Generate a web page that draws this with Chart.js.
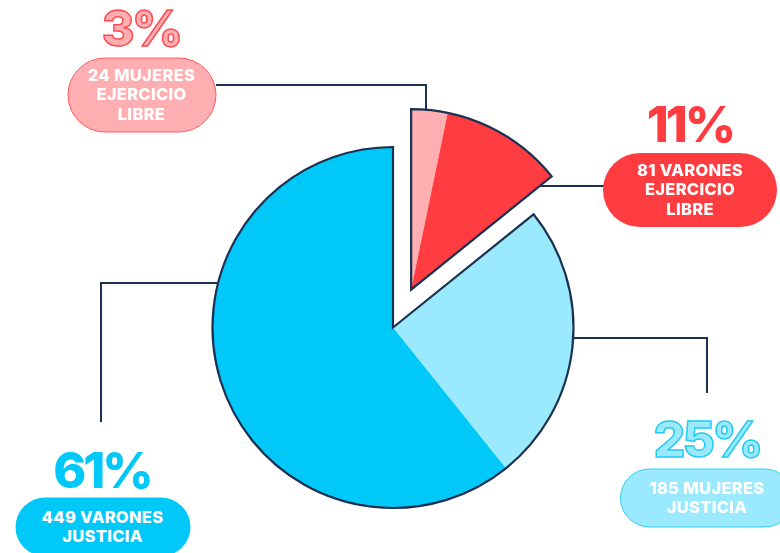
<!DOCTYPE html>
<html>
<head>
<meta charset="utf-8">
<script src="https://cdn.jsdelivr.net/npm/chart.js@4/dist/chart.umd.min.js"></script>
<style>
  html, body { margin: 0; padding: 0; background: #fff; overflow: hidden; }
  #wrap { position: relative; width: 780px; height: 553px; overflow: hidden; }
  #wrap canvas { position: absolute; left: 0; top: 0; }
  .pct, .pill { position: absolute; transform: translate(-50%, -50%); font-family: Inter, "Open Sans", sans-serif; text-align: center; white-space: nowrap; }
  .pct { font-size: 50px; font-weight: 800; line-height: 1; letter-spacing: -3px; }
  .pill { box-sizing: border-box; border-radius: 40px; color: #fff; font-size: 16.5px; font-weight: 800; line-height: 19.5px; letter-spacing: 0.3px; display: flex; align-items: center; justify-content: center; }
</style>
</head>
<body>
<div id="wrap">
  <canvas id="pie" width="780" height="553"></canvas>
</div>
<script>
// ── data ─────────────────────────────────────────────
const categories = ['Mujeres ejercicio libre', 'Varones ejercicio libre', 'Mujeres justicia', 'Varones justicia'];
const counts     = [24, 81, 185, 449];
const percents   = ['3%', '11%', '25%', '61%'];
const pillLines  = [
    ['24 MUJERES', 'EJERCICIO', 'LIBRE'],
    ['81 VARONES', 'EJERCICIO', 'LIBRE'],
    ['185 MUJERES', 'JUSTICIA'],
    ['449 VARONES', 'JUSTICIA']
];
const groups     = [[0, 1], [2, 3]];   // slices outlined together
const explodedGroup = 0;

// ── style ────────────────────────────────────────────
const NAVY = '#1b3152';
const colors = ['#ffaeb1', '#ff3c40', '#9be9fc', '#00c9f9'];
const EXPLODE = 42;

// leader lines (annotation geometry)
const leaders = [
    [[216, 85], [426, 85], [426, 130]],
    [[520, 186], [605, 186]],
    [[560, 338], [707, 338], [707, 393]],
    [[230, 283], [101, 283], [101, 422]]
];

// label placement: percentage centre, pill box
const labelPos = [
    { pct: [141, 28],  pctStyle: { color: '#ffaeb1', stroke: '#ff4a4f' }, pill: [67, 57, 149, 75], pillBg: '#ffaeb1', pillBorder: '#ff5a5f' },
    { pct: [690, 124], pctStyle: { color: '#ff3c40' },                     pill: [603, 153, 174, 74], pillBg: '#ff3c40' },
    { pct: [707, 439], pctStyle: { color: '#9be9fc', stroke: '#22cbf3' }, pill: [620, 468, 174, 59], pillBg: '#9be9fc', pillBorder: '#2ccff5' },
    { pct: [102, 470], pctStyle: { color: '#00c9f9' },                     pill: [15, 497, 175, 59], pillBg: '#00c9f9' }
];

(function () {
    'use strict';

    const groupPlugin = {
        id: 'groupOutline',
        afterDatasetsUpdate(chart) {
            // move the exploded group along its shared mid angle
            const arcs = chart.getDatasetMeta(0).data;
            const g = groups[explodedGroup];
            const mid = (arcs[g[0]].startAngle + arcs[g[g.length - 1]].endAngle) / 2;
            g.forEach(function (i) {
                arcs[i].x += Math.cos(mid) * EXPLODE;
                arcs[i].y += Math.sin(mid) * EXPLODE;
            });
        },
        beforeDatasetsDraw(chart) {
            const ctx = chart.ctx;
            ctx.save();
            ctx.strokeStyle = NAVY;
            ctx.lineWidth = 2;
            leaders.forEach(function (pts) {
                ctx.beginPath();
                pts.forEach(function (p, k) { k ? ctx.lineTo(p[0], p[1]) : ctx.moveTo(p[0], p[1]); });
                ctx.stroke();
            });
            ctx.restore();
        },
        afterDatasetsDraw(chart) {
            const ctx = chart.ctx;
            const arcs = chart.getDatasetMeta(0).data;
            ctx.save();
            ctx.strokeStyle = NAVY;
            ctx.lineWidth = 2.2;
            ctx.lineJoin = 'miter';
            groups.forEach(function (g) {
                const a = arcs[g[0]], b = arcs[g[g.length - 1]];
                ctx.beginPath();
                ctx.moveTo(a.x, a.y);
                ctx.arc(a.x, a.y, a.outerRadius, a.startAngle, b.endAngle);
                ctx.closePath();
                ctx.stroke();
            });
            ctx.restore();
        }
    };

    new Chart(document.getElementById('pie'), {
        type: 'pie',
        data: {
            labels: categories,
            datasets: [{
                data: counts,
                backgroundColor: colors,
                borderWidth: 0
            }]
        },
        options: {
            responsive: false,
            animation: false,
            events: [],
            layout: { padding: { left: 212.5, top: 147, right: 206.5, bottom: 45 } },
            plugins: { legend: { display: false }, tooltip: { enabled: false } }
        },
        plugins: [groupPlugin]
    });

    // ── labels as real text ──────────────────────────────
    const wrap = document.getElementById('wrap');
    labelPos.forEach(function (lp, i) {
        const pct = document.createElement('div');
        pct.className = 'pct';
        pct.textContent = percents[i];
        pct.style.left = lp.pct[0] + 'px';
        pct.style.top = lp.pct[1] + 'px';
        pct.style.color = lp.pctStyle.color;
        if (lp.pctStyle.stroke) pct.style.webkitTextStroke = '1.5px ' + lp.pctStyle.stroke;
        wrap.appendChild(pct);

        const pill = document.createElement('div');
        pill.className = 'pill';
        pill.innerHTML = pillLines[i].join('<br>');
        pill.style.left = (lp.pill[0] + lp.pill[2] / 2) + 'px';
        pill.style.top = (lp.pill[1] + lp.pill[3] / 2) + 'px';
        pill.style.width = lp.pill[2] + 'px';
        pill.style.height = lp.pill[3] + 'px';
        pill.style.background = lp.pillBg;
        if (lp.pillBorder) pill.style.border = '1.5px solid ' + lp.pillBorder;
        wrap.appendChild(pill);
    });
})();
</script>
</body>
</html>
